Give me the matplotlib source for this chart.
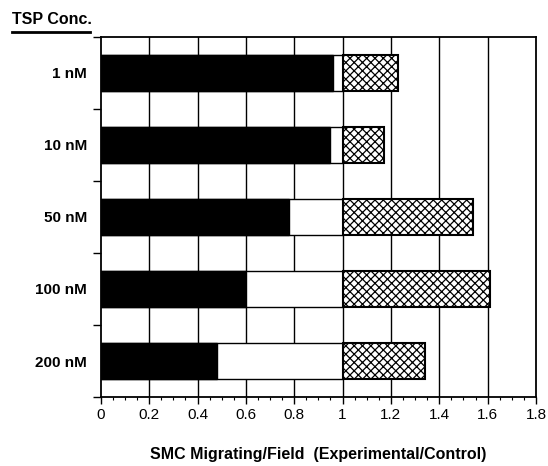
import numpy as np
import matplotlib
matplotlib.use('Agg')
import matplotlib.pyplot as plt
from matplotlib.lines import Line2D

plt.rcParams['font.family'] = ['Liberation Sans', 'DejaVu Sans']

# data
conc = ['1 nM', '10 nM', '50 nM', '100 nM', '200 nM']
black_vals = [0.96, 0.95, 0.78, 0.60, 0.48]   # migration below control
hatch_vals = [1.23, 1.17, 1.54, 1.61, 1.34]   # end of hatched bar (starts at 1)
xticks = [0, 0.2, 0.4, 0.6, 0.8, 1, 1.2, 1.4, 1.6, 1.8]
xtick_labels = ['0', '0.2', '0.4', '0.6', '0.8', '1', '1.2', '1.4', '1.6', '1.8']

fig = plt.figure(figsize=(5.48, 4.66), dpi=100)
ax = fig.add_axes([0.184, 0.148, 0.794, 0.773])

y = np.arange(len(conc)) + 0.5
h = 0.5

# vertical grid
for xv in xticks[1:-1]:
    ax.axvline(xv, color='black', lw=1.0, zorder=0)

# white part up to 1.0
ax.barh(y, 1.0, height=h, color='white', edgecolor='black', lw=1.0, zorder=2)
# black part
ax.barh(y, black_vals, height=h, color='black', edgecolor='black', lw=1.0, zorder=3)
# hatched part from 1.0
plt.rcParams['hatch.linewidth'] = 0.9
ax.barh(y, np.array(hatch_vals) - 1.0, left=1.0, height=h, color='white',
        edgecolor='black', hatch='xxxx', lw=1.5, zorder=3)

ax.set_xlim(0, 1.8)
ax.set_ylim(5, 0)

ax.set_xticks(xticks)
ax.set_xticklabels(xtick_labels, fontsize=11)
ax.set_xticks(np.arange(0, 1.8001, 0.05), minor=True)
ax.tick_params(axis='x', which='major', direction='out', length=5, width=1.0, pad=3)
ax.tick_params(axis='x', which='minor', direction='out', length=2.5, width=0.8)

ax.set_yticks(y)
ax.set_yticklabels(conc, fontsize=11, fontweight='bold')
ax.set_yticks(np.arange(0, 6), minor=True)
ax.tick_params(axis='y', which='major', length=0, pad=10)
ax.tick_params(axis='y', which='minor', direction='out', length=6, width=1.0)

for s in ax.spines.values():
    s.set_linewidth(1.3)
    s.set_zorder(5)

ax.set_xlabel('SMC Migrating/Field  (Experimental/Control)', fontsize=11.5,
              fontweight='bold', labelpad=18)

fig.text(0.022, 0.958, 'TSP Conc.', fontsize=11.5, fontweight='bold', va='center')
fig.add_artist(Line2D([0.022, 0.165], [0.932, 0.932], color='black', lw=2.0,
                      transform=fig.transFigure))

fig.savefig('out.png', dpi=100)
